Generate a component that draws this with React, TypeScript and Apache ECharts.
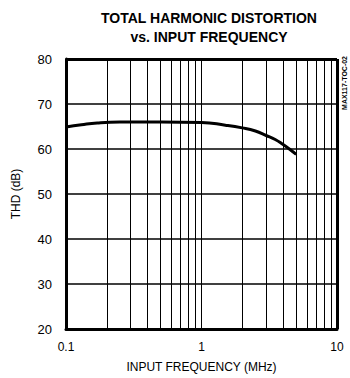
import React, { useEffect, useRef } from "react";
import * as echarts from "echarts";

const freqMHz = [0.1, 0.13, 0.17, 0.25, 0.5, 1.0, 1.5, 2.0, 2.5, 3.0, 3.5, 4.0, 4.5, 5.0];
const thdDb = [64.9, 65.4, 65.8, 66.0, 66.0, 65.9, 65.3, 64.7, 64.0, 63.0, 62.1, 61.0, 59.9, 58.8];
const minorGridFreqs = [0.2, 0.3, 0.4, 0.5, 0.6, 0.7, 0.8, 0.9, 1, 2, 3, 4, 5, 6, 7, 8, 9];
const xTickLabels: Record<string, string> = { "0.1": "0.1", "1": "1", "10": "10" };
const yTicks = [20, 30, 40, 50, 60, 70, 80];

export default function App() {
  const ref = useRef<HTMLDivElement>(null);
  useEffect(() => {
    if (!ref.current) return;
    const chart = echarts.init(ref.current, null, { renderer: "svg" });
    const font = "Liberation Sans, Arial, sans-serif";
    chart.setOption({
      animation: false,
      backgroundColor: "#ffffff",
      title: {
        text: "TOTAL HARMONIC DISTORTION\nvs. INPUT FREQUENCY",
        left: 204,
        top: 3,
        textAlign: "center",
        textStyle: {
          fontFamily: "Liberation Sans Narrow, Arial Narrow, sans-serif",
          fontWeight: 900,
          fontSize: 14,
          lineHeight: 19,
          color: "#000",
        },
      },
      graphic: [
        {
          type: "text",
          x: 344,
          y: 56,
          rotation: Math.PI / 2,
          style: {
            text: "MAX117-TOC-02",
            fontSize: 7,
            fontWeight: "bold",
            fontFamily: "Liberation Sans, sans-serif",
            fill: "#000",
            align: "right",
            verticalAlign: "middle",
          },
        },
      ],
      grid: { left: 66, right: 13, top: 59, bottom: 47, show: false },
      xAxis: {
        type: "log",
        logBase: 10,
        min: 0.1,
        max: 10,
        name: "INPUT FREQUENCY (MHz)",
        nameLocation: "middle",
        nameGap: 32,
        nameTextStyle: { fontFamily: font, fontSize: 12, color: "#000" },
        axisLine: { show: true, lineStyle: { color: "#000", width: 3 } },
        axisTick: { show: false },
        splitLine: { show: false },
        axisLabel: {
          fontFamily: font,
          fontSize: 12,
          color: "#000",
          margin: 12,
          formatter: (v: number) => {
            const k = String(Math.round(v * 1000) / 1000);
            return xTickLabels[k] ?? "";
          },
        },
      },
      yAxis: {
        type: "value",
        min: yTicks[0],
        max: yTicks[yTicks.length - 1],
        interval: 10,
        name: "THD (dB)",
        nameLocation: "middle",
        nameGap: 44,
        nameRotate: 90,
        nameTextStyle: { fontFamily: font, fontSize: 12, color: "#000" },
        axisLine: { show: true, lineStyle: { color: "#000", width: 3 } },
        axisTick: { show: false },
        splitLine: { show: true, lineStyle: { color: "#000", width: 1.5 } },
        axisLabel: { fontFamily: font, fontSize: 13, color: "#000", margin: 14 },
      },
      series: [
        {
          type: "line",
          data: freqMHz.map((f, i) => [f, thdDb[i]]),
          smooth: true,
          showSymbol: false,
          lineStyle: { color: "#000", width: 3 },
          z: 5,
          markLine: {
            silent: true,
            symbol: ["none", "none"],
            label: { show: false },
            lineStyle: { color: "#000", width: 1, type: "solid" },
            data: minorGridFreqs.map((f) => ({ xAxis: f })),
          },
        },
        {
          type: "line",
          data: [],
          markLine: {
            silent: true,
            symbol: ["none", "none"],
            label: { show: false },
            lineStyle: { color: "#000", width: 3, type: "solid" },
            data: [{ xAxis: 10 }, { yAxis: 80 }],
          },
        },
      ],
    });
    return () => chart.dispose();
  }, []);
  return <div ref={ref} style={{ width: 350, height: 378, position: "absolute", left: 0, top: 0 }} />;
}
